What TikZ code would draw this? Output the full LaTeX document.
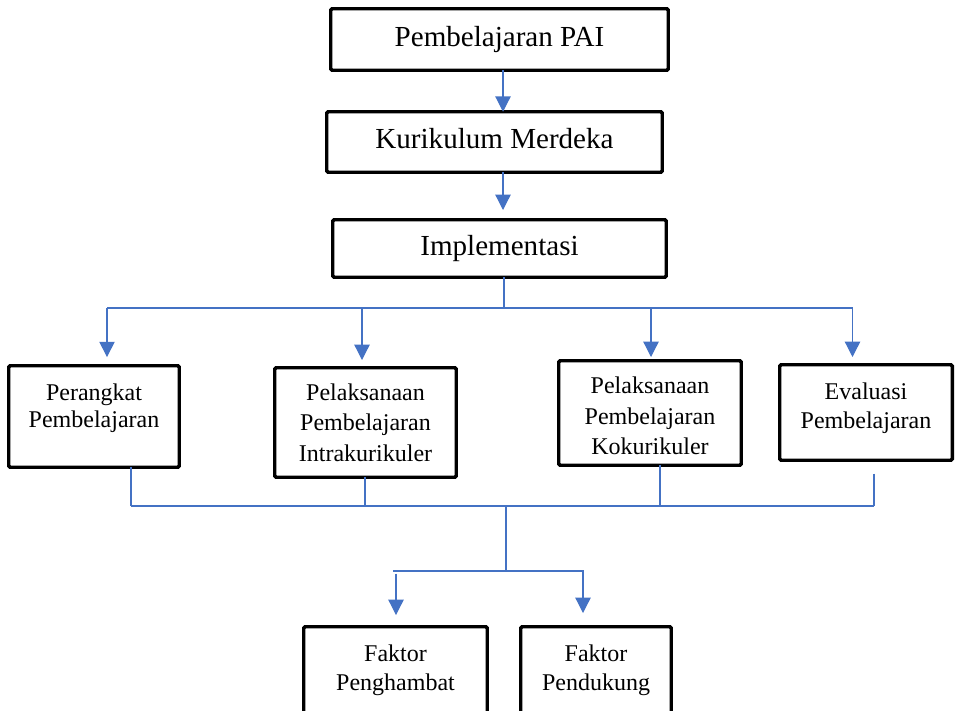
\documentclass[tikz,border=0pt]{standalone}
\usepackage{fontspec}
\setmainfont{Liberation Serif}
\usetikzlibrary{arrows.meta}
\definecolor{lineblue}{HTML}{4472C4}
\begin{document}
\begin{tikzpicture}[x=0.75pt,y=-0.75pt,
  box/.style={draw, line width=2.6pt, rounded corners=1pt, inner sep=0pt, outer sep=0pt, fill=white},
  bigtext/.style={font=\fontsize{21.8}{26}\selectfont, text height=15pt, text depth=4.8pt},
  smalltext/.style={font=\fontsize{18}{22.8}\selectfont, align=center, anchor=north, inner sep=0pt},
  ln/.style={draw=lineblue, line width=0.9pt},
  arr/.style={ln, -{Triangle[width=11.5pt,length=11.5pt]}, lineblue}]
\useasboundingbox (0,0) rectangle (955,710);
% top boxes
\node[box, bigtext, minimum width=337.5*0.75pt, minimum height=61.5*0.75pt] (b1) at (499.5,39.5) {Pembelajaran PAI};
\node[box, bigtext, minimum width=335.5*0.75pt, minimum height=60.5*0.75pt] (b2) at (494.5,142) {Kurikulum Merdeka};
\node[box, bigtext, minimum width=333.5*0.75pt, minimum height=57.5*0.75pt] (b3) at (499.5,248.5) {Implementasi};
% middle boxes
\node[box, minimum width=170.5*0.75pt, minimum height=101.5*0.75pt] (b4) at (94,416.5) {};
\node[box, minimum width=181.5*0.75pt, minimum height=109.5*0.75pt] (b5) at (365.5,422.5) {};
\node[box, minimum width=182.5*0.75pt, minimum height=104.5*0.75pt] (b6) at (650,413) {};
\node[box, minimum width=172.5*0.75pt, minimum height=95.5*0.75pt] (b7) at (866,412.5) {};
% bottom boxes
\node[box, minimum width=183.5*0.75pt, minimum height=116.5*0.75pt] (b8) at (395.5,685) {};
\node[box, minimum width=150.5*0.75pt, minimum height=116.5*0.75pt] (b9) at (596,685) {};
% texts
\node[smalltext, font=\fontsize{18}{20.5}\selectfont] (t4) at (94,383.5) {Perangkat\\Pembelajaran};
\node[smalltext] (t5) at (365.5,383.5) {Pelaksanaan\\Pembelajaran\\Intrakurikuler};
\node[smalltext] (t6) at (650,377) {Pelaksanaan\\Pembelajaran\\Kokurikuler};
\node[smalltext, font=\fontsize{18}{21.75}\selectfont] (t7) at (866,383) {Evaluasi\\Pembelajaran};
\node[smalltext, font=\fontsize{18}{21.75}\selectfont] (t8) at (395.5,644.5) {Faktor\\Penghambat};
\node[smalltext, font=\fontsize{18}{21.75}\selectfont] (t9) at (596,644.5) {Faktor\\Pendukung};
% coordinates
\coordinate (x1) at (503,0);
\coordinate (j1) at (504,308);
\coordinate (L1) at (107,308);
\coordinate (R1) at (852.5,308);
\coordinate (a5) at (362,308);
\coordinate (a6) at (651,308);
\coordinate (L2) at (131,506);
\coordinate (R2) at (874,506);
\coordinate (c5) at (365,506);
\coordinate (c6) at (660,506);
\coordinate (j2) at (506,506);
\coordinate (j3) at (506,571);
\coordinate (L3) at (393,571);
\coordinate (R3) at (584,571);
\coordinate (a8) at (396,571);
\coordinate (a9) at (583,571);
% connectors top
\draw[arr] (x1 |- b1.south) -- (x1 |- b2.north);
\draw[arr, shorten >=7.3pt] (x1 |- b2.south) -- (x1 |- b3.north);
\draw[ln] (j1 |- b3.south) -- (j1);
\draw[ln] (L1) -- (R1);
\draw[arr, shorten >=6.5pt] (L1) -- (L1 |- b4.north);
\draw[arr, shorten >=5.8pt] (a5) -- (a5 |- b5.north);
\draw[arr, shorten >=2.8pt] (a6) -- (a6 |- b6.north);
\draw[arr, shorten >=5.8pt] (R1) -- (R1 |- b7.north);
% connectors bottom
\draw[ln] (L2 |- b4.south) -- (L2);
\draw[ln] (c5 |- b5.south) -- (c5);
\draw[ln] (c6 |- b6.south) -- (c6);
\draw[ln, shorten <=10pt] (R2 |- b7.south) -- (R2);
\draw[ln] (L2) -- (R2);
\draw[ln] (j2) -- (j3);
\draw[ln] (L3) -- (R3);
\draw[arr, shorten <=2pt, shorten >=8.8pt] (a8) -- (a8 |- b8.north);
\draw[arr, shorten >=10.3pt] (a9) -- (a9 |- b9.north);
\end{tikzpicture}
\end{document}
